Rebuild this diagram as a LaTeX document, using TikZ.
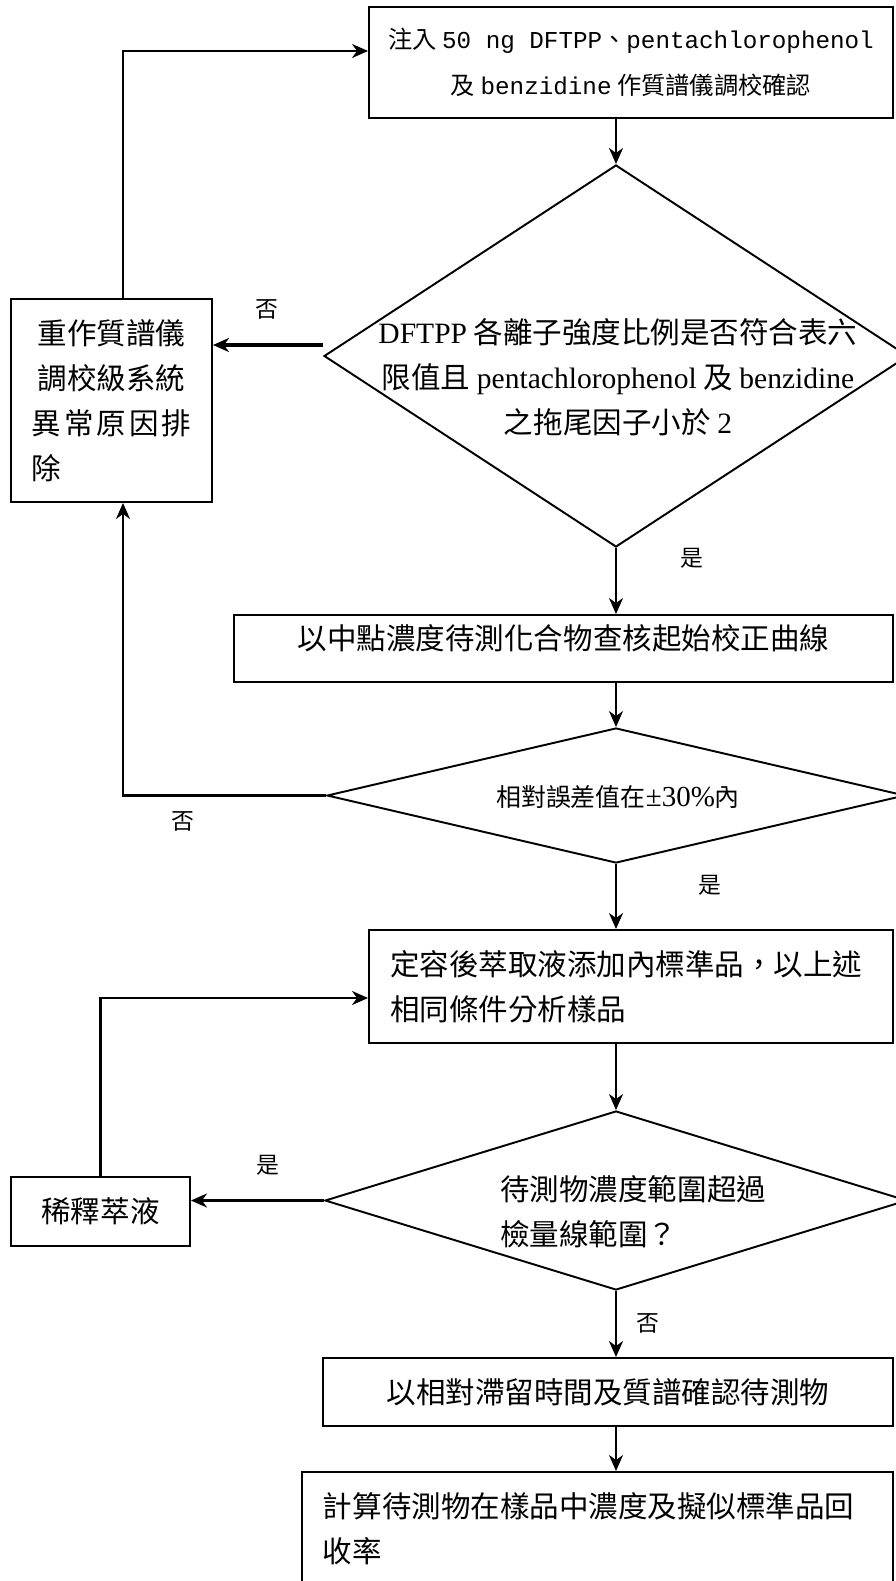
\documentclass[tikz,border=0pt]{standalone}
\usepackage{fontspec}
\setmainfont{Noto Sans CJK TC}
\newfontfamily\lat{Liberation Serif}
\newfontfamily\mono{Liberation Mono}
\usetikzlibrary{shapes.geometric,arrows.meta}

\tikzset{
	caja/.style={draw, line width=1.1pt, inner sep=0pt, font=\fontsize{16.8}{25.6}\selectfont},
	rombo/.style={diamond, draw, line width=1.1pt, inner sep=0pt},
	texto/.style={inner sep=0pt, align=center, font=\fontsize{16.8}{25.6}\selectfont},
	etiqueta/.style={inner sep=0pt, font=\fontsize{13}{15}\selectfont},
	flecha/.style={-{Stealth[length=3.2mm,width=2.8mm,inset=1mm]}, line width=1.2pt},
	flechagruesa/.style={flecha, line width=2.2pt}
}

\begin{document}
\begin{tikzpicture}[x=0.2mm, y=-0.2mm]
	\useasboundingbox (0,0) rectangle (896,1581);
	\clip (0,0) rectangle (896,1581);

	% Cajas
		\node[caja, minimum width=104.8mm, minimum height=22.2mm, align=center, font=\fontsize{13.8}{26}\selectfont] (inyeccion) at (631,62.5) {注入 {\mono 50 ng DFTPP}、{\mono pentachlorophenol}\\及 {\mono benzidine} 作質譜儀調校確認};
		\node[caja, minimum width=40.2mm, minimum height=40.6mm, align=left] (reajuste) at (111.5,400.5) {\makebox[32mm]{重作質譜儀}\\\makebox[32mm]{調校級系統}\\\makebox[32mm][s]{異\hfill 常\hfill 原\hfill 因\hfill 排}\\除};
		\node[caja, minimum width=131.8mm, minimum height=13.4mm, text height=4.9mm, text depth=4.6mm] (verificacion) at (563.5,648.5) {以中點濃度待測化合物查核起始校正曲線};
		\node[caja, minimum width=104.8mm, minimum height=22.6mm, text width=96.4mm, inner xsep=4.2mm, align=left] (muestra) at (631,986.5) {定容後萃取液添加內標準品，以上述\\相同條件分析樣品};
		\node[caja, minimum width=35.8mm, minimum height=13.8mm] (dilucion) at (100.5,1211.5) {稀釋萃液};
		\node[caja, minimum width=114mm, minimum height=13.6mm] (confirmacion) at (608,1392) {以相對滯留時間及質譜確認待測物};
		\node[caja, anchor=north, text width=109.8mm, inner xsep=4.2mm, inner ysep=4.1mm, text depth=30mm, align=left] (calculo) at (597.5,1471) {計算待測物在樣品中濃度及擬似標準品回\\收率};

	% Rombos
		\node[rombo, minimum width=116.8mm, minimum height=76.4mm] (criterio) at (616,356) {};
		\node[texto] (criteriotxt) at (618,377) {{\lat DFTPP} 各離子強度比例是否符合表六\\限值且 {\lat pentachlorophenol} 及 {\lat benzidine}\\之拖尾因子小於 {\lat 2}};
		\node[rombo, minimum width=115.6mm, minimum height=27mm] (error) at (616,795.5) {};
		\node[texto, font=\fontsize{14.2}{20}\selectfont] (errortxt) at (618,797) {相對誤差值在{\lat\fontsize{16.5}{20}\selectfont ±30\%}內};
		\node[rombo, minimum width=116.4mm, minimum height=35.8mm] (rango) at (616,1200.5) {};
		\node[texto, align=left, anchor=west] (rangotxt) at (500,1212) {待測物濃度範圍超過\\檢量線範圍？};

	% Si / No
		\node[etiqueta] (no1) at (267,309) {否};
		\node[etiqueta] (si1) at (692,558) {是};
		\node[etiqueta] (no2) at (183,821) {否};
		\node[etiqueta] (si2) at (710,885) {是};
		\node[etiqueta] (si3) at (268,1165) {是};
		\node[etiqueta] (no3) at (648,1323) {否};

	% Flechas
		\draw[flecha] (inyeccion.south -| criterio.north) -- (criterio.north);
		\draw[flechagruesa] ([yshift=2.2mm]criterio.west) -- ([yshift=2.2mm]criterio.west -| reajuste.east);
		\draw[flecha] ([xshift=2.3mm]reajuste.north) |- ([yshift=2.3mm]inyeccion.west);
		\draw[flecha] (criterio.south) -- (criterio.south |- verificacion.north);
		\draw[flecha] (verificacion.south -| error.north) -- (error.north);
		\draw[flecha] (error.west) -| ([xshift=2.3mm]reajuste.south);
		\draw[flecha] (error.south) -- (error.south |- muestra.north);
		\draw[flecha] (muestra.south -| rango.north) -- (rango.north);
		\draw[flechagruesa] (rango.west) -- (rango.west -| dilucion.east);
		\draw[flecha] (dilucion.north) |- ([yshift=-2.3mm]muestra.west);
		\draw[flecha] (rango.south) -- (rango.south |- confirmacion.north);
		\draw[flecha] (confirmacion.south -| rango.south) -- (rango.south |- calculo.north);
\end{tikzpicture}
\end{document}
